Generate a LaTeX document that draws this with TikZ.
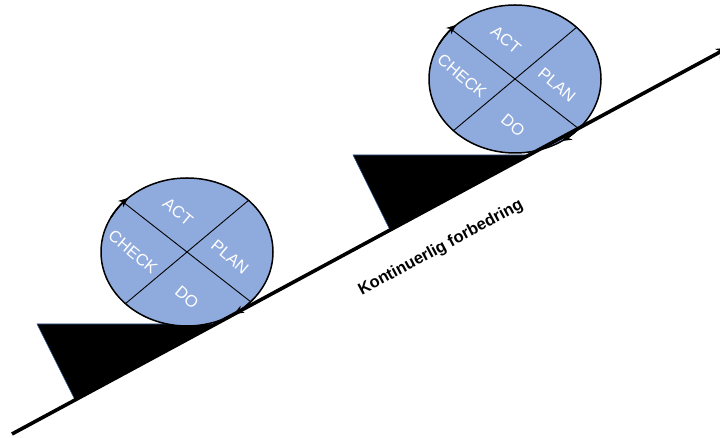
\documentclass[tikz,border=0pt]{standalone}
\usepackage{fontspec}
\setmainfont{Liberation Sans}
\usetikzlibrary{shapes.geometric,arrows.meta,calc}
\definecolor{discblue}{RGB}{143,170,220}
\definecolor{wedgeedge}{RGB}{47,82,143}

\begin{document}
\begin{tikzpicture}[
    x=1pt, y=1pt,
    disc/.style={ellipse, draw, line width=1.5pt, fill=discblue, minimum width=172pt, minimum height=148pt, inner sep=0pt, outer sep=0pt},
    quarter/.style={text=white, rotate=-40, font=\fontsize{16.5}{19}\selectfont, inner sep=0pt},
    cross/.style={line width=0.9pt},
    spin/.style={line width=1.5pt, -{Stealth[length=10pt,width=8pt]}},
    wedge/.style={fill=black, draw=wedgeedge, line width=0.6pt},
    slope/.style={line width=3.6pt, -{Stealth[length=12pt,width=10pt]}}
]
    \useasboundingbox (0,0) rectangle (720,438);

    % slope
    \coordinate (s0) at (12,4);
    \coordinate (s1) at (728,390.3);

    % wedges under the discs
    \coordinate (w1a) at (37,114);
    \coordinate (w1b) at (217,114);
    \coordinate (w1c) at (75,38);
    \coordinate (w2a) at (353,283);
    \coordinate (w2b) at (530,283);
    \coordinate (w2c) at (390,208);
    \filldraw[wedge] (w1a) -- (w1b) -- (w1c) -- cycle;
    \filldraw[wedge] (w2a) -- (w2b) -- (w2c) -- cycle;

    % lower disc
    \node[disc] (lo) at (187,186) {};
    \draw[cross] (lo.142) -- (lo.-38);
    \draw[cross] (lo.40) -- (lo.220);
    \node[quarter] (loact) at ($(lo)+(-9,40)$) {ACT};
    \node[quarter] (loplan) at ($(lo)+(43,-5)$) {PLAN};
    \node[quarter] (locheck) at ($(lo)+(-54,0)$) {CHECK};
    \node[quarter] (lodo) at ($(lo)+(0,-45)$) {DO};

    % upper disc
    \node[disc] (up) at (515,359) {};
    \draw[cross] (up.142) -- (up.-38);
    \draw[cross] (up.40) -- (up.220);
    \node[quarter] (upact) at ($(up)+(-9,39)$) {ACT};
    \node[quarter] (upplan) at ($(up)+(42,-6)$) {PLAN};
    \node[quarter] (upcheck) at ($(up)+(-53,3)$) {CHECK};
    \node[quarter] (updo) at ($(up)+(-2,-46)$) {DO};

    \draw[slope] (s0) -- (s1);
    \node[rotate=28.3, font=\bfseries\fontsize{16.5}{19}\selectfont] (motto) at (441,190) {Kontinuerlig forbedring};

    % turning arrows on the rims
    \draw[spin] (lo.center) ++(152:86 and 74) arc[start angle=152, end angle=133, x radius=86, y radius=74];
    \draw[spin] (lo.center) ++(-38:86 and 74) arc[start angle=-38, end angle=-57, x radius=86, y radius=74];
    \draw[spin] (up.center) ++(152:86 and 74) arc[start angle=152, end angle=133, x radius=86, y radius=74];
    \draw[spin] (up.center) ++(-38:86 and 74) arc[start angle=-38, end angle=-57, x radius=86, y radius=74];
\end{tikzpicture}
\end{document}
